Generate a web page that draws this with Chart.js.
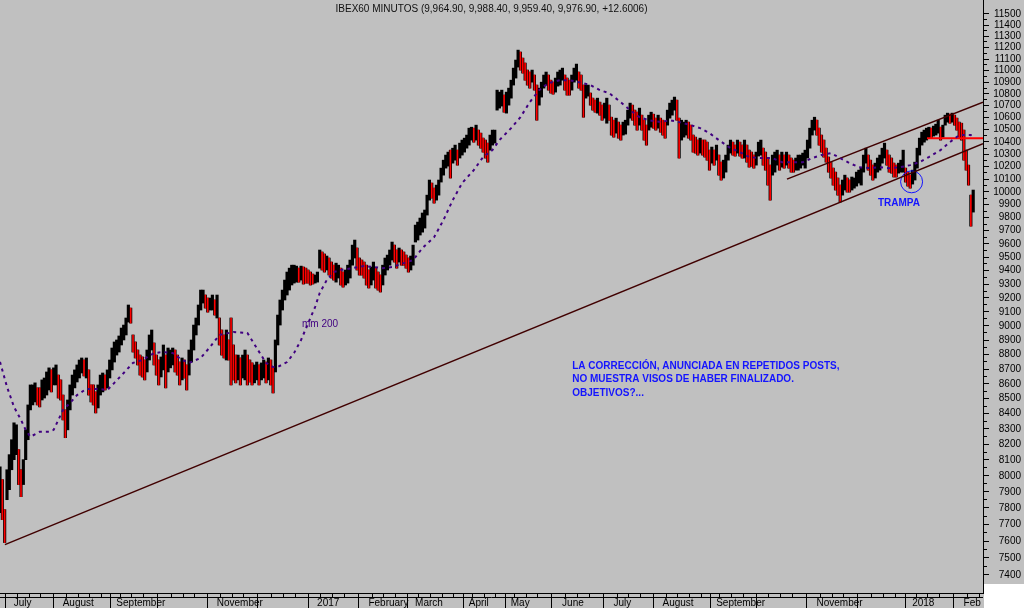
<!DOCTYPE html>
<html>
<head>
<meta charset="utf-8">
<title>IBEX60 MINUTOS</title>
<script src="https://cdn.jsdelivr.net/npm/chart.js@4.4.1/dist/chart.umd.min.js"></script>
<style>
  html, body { margin: 0; padding: 0; background: #c0c0c0; }
  #wrap { width: 1024px; height: 608px; position: relative; }
</style>
</head>
<body>
<div id="wrap"><canvas id="ibexChart"></canvas></div>
<script>
'use strict';

// ── Data (one bar per trading session, day 0 = 24 Jun 2016) ──────────────────
const highs = [
  8057, 7976, 7790, 8038, 8134, 8230, 8340, 8327, 8166, 8038,
  8102, 8294, 8458, 8592, 8592, 8606, 8572, 8572, 8626, 8639,
  8680, 8708, 8694, 8708, 8728, 8659, 8626, 8524, 8425, 8491,
  8592, 8659, 8694, 8728, 8762, 8776, 8762, 8776, 8694, 8592,
  8592, 8545, 8592, 8659, 8673, 8659, 8694, 8762, 8845, 8887,
  8901, 8929, 8985, 9006, 9056, 9149, 9127, 8936, 8887, 8831,
  8796, 8783, 8762, 8831, 8936, 8971, 8880, 8796, 8762, 8783,
  8866, 8796, 8845, 8831, 8845, 8831, 8796, 8748, 8776, 8762,
  8728, 8831, 8901, 9006, 9056, 9149, 9257, 9257, 9221, 9199,
  9199, 9221, 9185, 9221, 9056, 8971, 8936, 8971, 8901, 9056,
  8866, 8796, 8796, 8776, 8796, 8831, 8796, 8762, 8742, 8728,
  8748, 8728, 8742, 8762, 8748, 8776, 8762, 8708, 8901, 9077,
  9185, 9257, 9330, 9389, 9418, 9440, 9440, 9433, 9418, 9433,
  9426, 9418, 9404, 9389, 9374, 9367, 9389, 9553, 9538, 9523,
  9508, 9493, 9463, 9440, 9455, 9440, 9418, 9389, 9404, 9440,
  9478, 9590, 9628, 9568, 9493, 9478, 9463, 9440, 9404, 9426,
  9463, 9418, 9389, 9367, 9440, 9493, 9515, 9553, 9613, 9590,
  9553, 9568, 9553, 9538, 9515, 9493, 9508, 9590, 9742, 9765,
  9796, 9835, 9858, 9974, 10093, 10069, 10029, 10053, 10093, 10188,
  10252, 10293, 10317, 10333, 10349, 10374, 10333, 10390, 10415, 10431,
  10456, 10513, 10521, 10513, 10538, 10497, 10472, 10431, 10415, 10390,
  10456, 10497, 10497, 10832, 10815, 10832, 10790, 10815, 10849, 10917,
  11021, 11091, 11178, 11161, 11108, 11065, 11004, 10987, 11004, 10961,
  10875, 10849, 10900, 10961, 10987, 10961, 10917, 10900, 10935, 10987,
  11004, 11021, 10961, 10935, 10917, 10961, 11021, 11056, 10987, 10961,
  10875, 10875, 10875, 10807, 10764, 10747, 10764, 10730, 10705, 10722,
  10764, 10705, 10604, 10579, 10596, 10563, 10538, 10563, 10579, 10663,
  10722, 10705, 10663, 10646, 10680, 10621, 10579, 10538, 10621, 10646,
  10629, 10596, 10621, 10596, 10579, 10563, 10663, 10722, 10747, 10773,
  10747, 10596, 10579, 10563, 10579, 10563, 10538, 10456, 10439, 10415,
  10431, 10415, 10415, 10398, 10333, 10358, 10333, 10374, 10293, 10236,
  10252, 10293, 10374, 10415, 10398, 10374, 10415, 10398, 10374, 10415,
  10374, 10333, 10317, 10293, 10317, 10398, 10415, 10349, 10317, 10269,
  10212, 10293, 10317, 10333, 10293, 10317, 10293, 10317, 10293, 10269,
  10252, 10269, 10293, 10293, 10309, 10333, 10415, 10513, 10579, 10604,
  10579, 10513, 10456, 10415, 10349, 10277, 10236, 10188, 10156, 10109,
  10053, 10093, 10132, 10109, 10093, 10117, 10109, 10156, 10172, 10188,
  10293, 10349, 10293, 10252, 10212, 10228, 10269, 10293, 10349, 10390,
  10333, 10293, 10269, 10228, 10212, 10228, 10252, 10333, 10188, 10156,
  10132, 10172, 10236, 10349, 10431, 10480, 10497, 10513, 10521, 10513,
  10530, 10546, 10579, 10521, 10538, 10621, 10638, 10629, 10638, 10621,
  10596, 10563, 10554, 10497, 10333, 10212, 9974, 10014
];
const lows = [
  7772, 7729, 7591, 7851, 7913, 8038, 8102, 8134, 7945, 7870,
  7945, 8102, 8230, 8425, 8458, 8478, 8458, 8445, 8491, 8504,
  8524, 8558, 8545, 8592, 8592, 8504, 8491, 8359, 8243, 8294,
  8425, 8524, 8572, 8612, 8639, 8673, 8653, 8639, 8524, 8478,
  8458, 8405, 8438, 8524, 8545, 8558, 8572, 8639, 8694, 8748,
  8796, 8817, 8866, 8901, 8936, 9027, 9020, 8817, 8776, 8728,
  8659, 8646, 8626, 8680, 8762, 8831, 8728, 8659, 8592, 8646,
  8694, 8572, 8680, 8708, 8728, 8680, 8659, 8592, 8626, 8639,
  8558, 8659, 8748, 8831, 8936, 9006, 9113, 9163, 9127, 9098,
  9113, 9113, 9077, 9056, 8866, 8796, 8776, 8762, 8762, 8592,
  8626, 8606, 8626, 8592, 8639, 8626, 8592, 8612, 8592, 8606,
  8626, 8592, 8626, 8639, 8606, 8626, 8592, 8538, 8680, 8866,
  9006, 9113, 9185, 9221, 9257, 9294, 9308, 9315, 9315, 9330,
  9301, 9308, 9308, 9294, 9301, 9308, 9315, 9418, 9404, 9389,
  9404, 9367, 9345, 9330, 9315, 9345, 9294, 9279, 9294, 9308,
  9345, 9440, 9493, 9404, 9367, 9367, 9345, 9294, 9272, 9294,
  9330, 9272, 9257, 9243, 9294, 9367, 9404, 9440, 9478, 9463,
  9418, 9463, 9440, 9440, 9418, 9389, 9404, 9440, 9613, 9628,
  9666, 9688, 9719, 9819, 9935, 9951, 9912, 9935, 9974, 10077,
  10132, 10188, 10204, 10109, 10228, 10252, 10212, 10269, 10293, 10317,
  10349, 10374, 10415, 10398, 10415, 10374, 10349, 10317, 10269, 10236,
  10333, 10374, 10390, 10663, 10680, 10697, 10646, 10638, 10705, 10764,
  10875, 10935, 11030, 11004, 10978, 10917, 10875, 10849, 10900, 10832,
  10579, 10705, 10773, 10849, 10875, 10832, 10807, 10798, 10815, 10866,
  10875, 10917, 10832, 10790, 10790, 10832, 10900, 10917, 10849, 10832,
  10604, 10764, 10781, 10705, 10663, 10646, 10638, 10621, 10579, 10596,
  10554, 10579, 10456, 10439, 10472, 10431, 10415, 10456, 10464, 10538,
  10596, 10579, 10538, 10497, 10538, 10497, 10415, 10374, 10497, 10521,
  10513, 10497, 10513, 10480, 10456, 10431, 10538, 10596, 10621, 10663,
  10579, 10269, 10415, 10439, 10456, 10431, 10415, 10317, 10309, 10293,
  10309, 10293, 10277, 10252, 10172, 10228, 10212, 10252, 10132, 10093,
  10109, 10156, 10252, 10309, 10293, 10285, 10309, 10285, 10269, 10269,
  10236, 10196, 10204, 10188, 10212, 10285, 10293, 10212, 10172, 10053,
  9935, 10132, 10156, 10212, 10172, 10196, 10188, 10212, 10188, 10156,
  10156, 10172, 10172, 10188, 10212, 10188, 10269, 10349, 10456, 10497,
  10456, 10374, 10317, 10277, 10236, 10156, 10109, 10053, 10014, 9974,
  9920, 9974, 10014, 9998, 9998, 10014, 10029, 10045, 10069, 10053,
  10156, 10228, 10172, 10132, 10093, 10109, 10156, 10172, 10228, 10269,
  10212, 10156, 10148, 10117, 10117, 10148, 10156, 10156, 10077, 10045,
  10029, 10061, 10093, 10188, 10293, 10374, 10398, 10415, 10431, 10431,
  10448, 10456, 10472, 10415, 10439, 10538, 10563, 10554, 10563, 10538,
  10497, 10439, 10415, 10252, 10172, 10053, 9734, 9842
];

// mm 200 (moving average), read at sample sessions
const maDays = [
  0, 3, 6, 9, 11, 13, 17, 21, 23, 25, 27, 30, 33, 37, 42, 46, 49, 53, 57, 61,
  66, 70, 74, 78, 81, 86, 90, 94, 100, 106, 110, 114, 117, 119, 123, 126, 129, 135, 137, 140,
  143, 146, 151, 156, 160, 164, 168, 173, 177, 181, 186, 190, 194, 198, 203, 207, 211, 214, 219, 223,
  227, 231, 235, 240, 244, 248, 253, 257, 261, 266, 270, 274, 278, 283, 287, 291, 296, 300, 304, 308,
  313, 317, 321, 326, 331, 335, 340, 344, 348, 352, 356, 360, 364, 368, 373, 377, 381, 386, 390, 394,
  398, 403, 407, 411, 416, 417
];
const maValues = [
  8749, 8579, 8445, 8359, 8294, 8249, 8281, 8281, 8294, 8359, 8425, 8471, 8524, 8565, 8565, 8558, 8606, 8673, 8742, 8762,
  8810, 8817, 8810, 8762, 8742, 8776, 8852, 8936, 8957, 8950, 8845, 8742, 8714, 8714, 8748, 8810, 8901, 9134, 9236, 9330,
  9389, 9404, 9418, 9433, 9426, 9418, 9426, 9455, 9478, 9568, 9650, 9780, 9935, 10069, 10172, 10277, 10333, 10415, 10513, 10604,
  10730, 10832, 10892, 10917, 10917, 10900, 10875, 10832, 10807, 10730, 10663, 10604, 10579, 10563, 10579, 10563, 10538, 10513, 10472, 10415,
  10349, 10317, 10277, 10269, 10269, 10236, 10236, 10236, 10269, 10293, 10309, 10269, 10228, 10196, 10188, 10196, 10188, 10196, 10212, 10236,
  10277, 10333, 10398, 10456, 10456, 10439
];

// hand-drawn lines
const supportDays = [2.1, 421.2];
const supportValues = [7579, 10385];
const channelDays = [337.2, 421.2];
const channelValues = [10100, 10730];
const stopDays = [397.2, 421.2];
const stopValues = [10430, 10430];
const trapDays = [390.6];
const trapValues = [10079];

// axes
const monthStarts = [5, 26, 49, 71, 92, 114, 135, 157, 177, 200, 218, 240, 262, 283, 306, 327, 349, 371, 390, 412];
const monthLabels = ['July', 'August', 'September', '', 'November', '', '2017', 'February', 'March', 'April',
                     'May', 'June', 'July', 'August', 'September', '', 'November', '', '2018', 'Feb'];
const yMin = 7296, yMax = 11627;
const yFirstTick = 7400, yLastTick = 11500;

const titleText = 'IBEX60 MINUTOS (9,964.90, 9,988.40, 9,959.40, 9,976.90, +12.6006)';
const noteLines = ['LA CORRECCIÓN, ANUNCIADA EN REPETIDOS POSTS,', 'NO MUESTRA VISOS DE HABER FINALIZADO.', 'OBJETIVOS?...'];

// ── Helpers ───────────────────────────────────────────────────────────────────
const toPoints = (xs, ys) => xs.map((x, i) => ({ x: x, y: ys[i] }));

const allBars = highs.map((h, i) => ({ x: i, y: [lows[i], h] }));
const downBars = [];
highs.forEach((h, i) => {
  if (i === 0) return;
  const mid = (h + lows[i]) / 2;
  const prev = (highs[i - 1] + lows[i - 1]) / 2;
  if (mid < prev) downBars.push({ x: i, y: [lows[i], h] });
});

const FONT = "'Liberation Sans', Arial, sans-serif";

// background + bottom-right corner
const backdrop = {
  id: 'backdrop',
  beforeDraw(chart) {
    const { ctx, chartArea } = chart;
    ctx.save();
    ctx.fillStyle = '#c0c0c0';
    ctx.fillRect(0, 0, chart.width, chart.height);
    ctx.fillStyle = '#ffffff';
    ctx.fillRect(chartArea.right + 1, chartArea.bottom - 9, chart.width, chart.height);
    ctx.restore();
  },
  afterDraw(chart) {
    const { ctx, chartArea } = chart;
    ctx.save();
    ctx.strokeStyle = '#000';
    ctx.lineWidth = 1;
    ctx.beginPath();
    ctx.moveTo(chartArea.left, chartArea.bottom + 4.5);
    ctx.lineTo(chartArea.right, chartArea.bottom + 4.5);
    ctx.stroke();
    ctx.restore();
  }
};

// texts written on the chart
const notes = {
  id: 'notes',
  afterDatasetsDraw(chart) {
    const { ctx, chartArea, scales } = chart;
    const px = (d) => scales.x.getPixelForValue(d);
    const py = (v) => scales.y.getPixelForValue(v);
    ctx.save();
    ctx.textBaseline = 'middle';

    ctx.font = '10px ' + FONT;
    ctx.fillStyle = '#101010';
    ctx.textAlign = 'center';
    ctx.fillText(titleText, (chartArea.left + chartArea.right) / 2, 9);

    ctx.textAlign = 'left';
    ctx.fillStyle = '#400080';
    ctx.fillText('mm 200', px(129.4), py(9013));

    ctx.font = 'bold 10px ' + FONT;
    ctx.fillStyle = '#1414ff';
    ctx.fillText('TRAMPA', px(376.2), py(9912));

    noteLines.forEach((line, i) => {
      ctx.fillText(line, px(245.2), py(8720) + i * 13.5);
    });
    ctx.restore();
  }
};

// ── Chart ─────────────────────────────────────────────────────────────────────
const ctx = document.getElementById('ibexChart').getContext('2d');

new Chart(ctx, {
  type: 'bar',
  data: {
    datasets: [
      {
        type: 'line', label: 'mm 200', data: toPoints(maDays, maValues),
        borderColor: '#400080', borderWidth: 2, borderDash: [3, 4],
        pointRadius: 0, tension: 0, order: 0
      },
      {
        type: 'line', label: 'soporte', data: toPoints(supportDays, supportValues),
        borderColor: '#400000', borderWidth: 1.5, pointRadius: 0, order: 1
      },
      {
        type: 'line', label: 'canal', data: toPoints(channelDays, channelValues),
        borderColor: '#400000', borderWidth: 1.5, pointRadius: 0, order: 1
      },
      {
        type: 'line', label: 'stop', data: toPoints(stopDays, stopValues),
        borderColor: '#ff0000', borderWidth: 2, pointRadius: 0, order: 1
      },
      {
        type: 'line', label: 'trampa', data: toPoints(trapDays, trapValues),
        showLine: false, pointRadius: 11, pointStyle: 'circle',
        pointBackgroundColor: 'rgba(0,0,0,0)', pointBorderColor: '#1414ff', pointBorderWidth: 1,
        order: 1
      },
      {
        label: 'baja', data: downBars, backgroundColor: '#ff0000',
        barThickness: 1, grouped: false, order: 2
      },
      {
        label: 'IBEX', data: allBars, backgroundColor: '#000000',
        barThickness: 2.5, grouped: false, order: 3
      }
    ]
  },
  options: {
    responsive: true,
    maintainAspectRatio: false,
    animation: false,
    events: [],
    layout: { autoPadding: false, padding: { left: 0, top: 0, right: 3, bottom: 0 } },
    plugins: {
      legend: { display: false },
      tooltip: { enabled: false }
    },
    scales: {
      x: {
        type: 'linear',
        position: 'bottom',
        min: 0,
        max: 421.2,
        offset: false,
        border: { display: true, color: '#000' },
        grid: {
          drawOnChartArea: false,
          color: '#000',
          tickLength: 15,
          tickBorderDash: (c) => (c.tick && monthStarts.includes(c.tick.value)) ? [] : [4, 40]
        },
        ticks: {
          autoSkip: false,
          maxRotation: 0,
          align: 'start',
          labelOffset: 2,
          padding: -11,
          color: '#000',
          font: { family: FONT, size: 10 },
          callback: (value) => {
            const k = monthStarts.indexOf(value);
            return k >= 0 ? monthLabels[k] : '';
          }
        },
        afterBuildTicks: (scale) => {
          const vals = [];
          monthStarts.forEach((m, i) => {
            vals.push(m);
            const next = i + 1 < monthStarts.length ? monthStarts[i + 1] : scale.max;
            for (let w = m + 5; w < next - 2; w += 5) vals.push(w);
          });
          scale.ticks = vals.map(v => ({ value: v }));
        },
        afterFit: (scale) => {
          scale.height = 15;
          scale.paddingLeft = 0;
          scale.paddingRight = 0;
        }
      },
      y: {
        type: 'logarithmic',
        position: 'right',
        min: yMin,
        max: yMax,
        border: { display: true, color: '#000' },
        grid: {
          drawOnChartArea: false,
          color: '#000',
          tickLength: 6,
          tickBorderDash: (c) => (c.tick && c.tick.value % 100 === 0) ? [] : [3, 20]
        },
        ticks: {
          autoSkip: false,
          crossAlign: 'far',
          padding: 2,
          color: '#000',
          font: { family: FONT, size: 10 },
          callback: (value) => (value % 100 === 0 ? String(value) : '')
        },
        afterBuildTicks: (scale) => {
          const vals = [];
          for (let v = yFirstTick; v <= yLastTick; v += 50) vals.push({ value: v });
          scale.ticks = vals;
        },
        afterFit: (scale) => {
          scale.width = 38;
          scale.paddingTop = 0;
          scale.paddingBottom = 0;
        }
      }
    }
  },
  plugins: [backdrop, notes]
});
</script>
</body>
</html>
